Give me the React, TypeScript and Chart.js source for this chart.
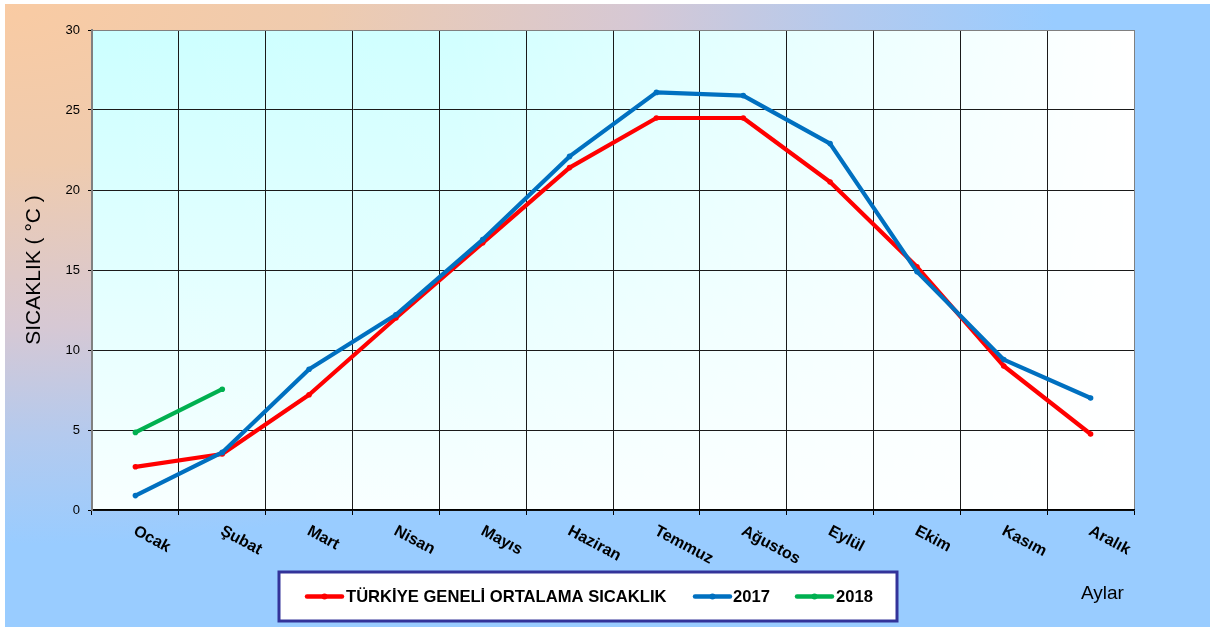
import React, { useEffect, useRef } from "react";
import { Chart, registerables } from "chart.js";

Chart.register(...registerables);

const MONTHS = ["Ocak", "Şubat", "Mart", "Nisan", "Mayıs", "Haziran", "Temmuz", "Ağustos", "Eylül", "Ekim", "Kasım", "Aralık"];
const TURKIYE_ORTALAMA = [2.7, 3.5, 7.2, 12.0, 16.7, 21.4, 24.5, 24.5, 20.5, 15.2, 9.0, 4.75];
const YIL_2017 = [0.9, 3.6, 8.8, 12.2, 16.9, 22.1, 26.1, 25.9, 22.9, 14.9, 9.4, 7.0];
const YIL_2018 = [4.85, 7.55, null, null, null, null, null, null, null, null, null, null];
const SERIES_LABELS = ["TÜRKİYE GENELİ ORTALAMA SICAKLIK", "2017", "2018"];
const SERIES_COLORS = ["#FF0000", "#0070C0", "#00B050"];
const Y_MIN = 0;
const Y_MAX = 30;
const Y_STEP = 5;
const Y_TITLE = "SICAKLIK ( °C )";
const X_TITLE = "Aylar";

const FAMILY = '"Liberation Sans", Arial, sans-serif';

const decor = {
  id: "decor",
  beforeDraw(chart: any) {
    const { ctx, chartArea: a } = chart;
    ctx.save();
    const g = ctx.createLinearGradient(0, a.top, 0, a.bottom);
    g.addColorStop(0, "#CCFFFF");
    g.addColorStop(1, "#F8FFFF");
    ctx.fillStyle = g;
    ctx.fillRect(a.left, a.top, a.width, a.height);
    const h = ctx.createLinearGradient(a.left, 0, a.right, 0);
    h.addColorStop(0, "rgba(255,255,255,0)");
    h.addColorStop(0.35, "rgba(255,255,255,0.1)");
    h.addColorStop(1, "rgba(255,255,255,1)");
    ctx.fillStyle = h;
    ctx.fillRect(a.left, a.top, a.width, a.height);
    ctx.restore();
  },
  afterDraw(chart: any) {
    const { ctx, chartArea: a } = chart;
    const xs = chart.scales.x;
    ctx.save();
    // rotated month labels
    ctx.fillStyle = "#000";
    ctx.font = `bold 16px ${FAMILY}`;
    ctx.textAlign = "left";
    ctx.textBaseline = "top";
    MONTHS.forEach((m, i) => {
      const x = xs.getPixelForValue(i) + 3;
      ctx.save();
      ctx.translate(x, a.bottom + 13);
      ctx.rotate(0.49);
      ctx.fillText(m, 0, 0);
      ctx.restore();
    });

    // legend box
    const bx = 274, by = 568, bw = 618, bh = 49;
    ctx.fillStyle = "#FFFFFF";
    ctx.fillRect(bx, by, bw, bh);
    ctx.strokeStyle = "#333399";
    ctx.lineWidth = 3;
    ctx.strokeRect(bx, by, bw, bh);
    const items = [
      { lx: 302, tx: 341 },
      { lx: 690, tx: 728 },
      { lx: 792, tx: 831 },
    ];
    const ly = by + bh / 2;
    items.forEach((it, i) => {
      const c = SERIES_COLORS[i];
      ctx.strokeStyle = c;
      ctx.lineWidth = 4.5;
      ctx.lineCap = "round";
      ctx.beginPath();
      ctx.moveTo(it.lx, ly);
      ctx.lineTo(it.lx + 35, ly);
      ctx.stroke();
      ctx.fillStyle = c;
      ctx.beginPath();
      ctx.arc(it.lx + 17.5, ly, 3, 0, Math.PI * 2);
      ctx.fill();
      ctx.fillStyle = "#000";
      ctx.font = `bold 16.6px ${FAMILY}`;
      ctx.textAlign = "left";
      ctx.textBaseline = "middle";
      ctx.fillText(SERIES_LABELS[i], it.tx, ly + 1);
    });

    // x title
    ctx.fillStyle = "#000";
    ctx.font = `19px ${FAMILY}`;
    ctx.textAlign = "left";
    ctx.textBaseline = "middle";
    ctx.fillText(X_TITLE, 1076, 590);
    ctx.restore();
  },
};

export default function App() {
  const ref = useRef<HTMLCanvasElement>(null);
  useEffect(() => {
    const datasets = [TURKIYE_ORTALAMA, YIL_2017, YIL_2018].map((d, i) => ({
      label: SERIES_LABELS[i],
      data: d,
      borderColor: SERIES_COLORS[i],
      backgroundColor: SERIES_COLORS[i],
      pointBackgroundColor: SERIES_COLORS[i],
      pointBorderColor: SERIES_COLORS[i],
      pointBorderWidth: 0,
      pointRadius: 2.8,
      borderWidth: 4.2,
      borderCapStyle: "round" as const,
      borderJoinStyle: "round" as const,
      tension: 0,
      spanGaps: false,
      order: 3 - i,
    }));
    const chart = new Chart(ref.current!, {
      type: "line",
      data: { labels: MONTHS, datasets },
      options: {
        animation: false,
        responsive: false,
        layout: { padding: { left: 0, top: 26, right: 76, bottom: 0 } },
        plugins: { legend: { display: false }, tooltip: { enabled: false }, title: { display: false } },
        scales: {
          x: {
            type: "category",
            offset: true,
            grid: {
              offset: true,
              color: (c: any) => (c.type === "scale" || c.index === 0 ? "#808080" : "#1a1a1a"),
              lineWidth: 1,
              drawTicks: true,
              tickLength: 5,
              tickColor: "#000",
            },
            border: { color: "#000", width: 1.5 },
            ticks: { display: false },
            afterFit: (s: any) => {
              s.height = 117;
            },
          },
          y: {
            min: Y_MIN,
            max: Y_MAX,
            ticks: { stepSize: Y_STEP, color: "#000", font: { size: 13, family: FAMILY }, padding: 8 },
            grid: {
              color: (c: any) => (c.tick && c.tick.value === Y_MAX ? "#808080" : "#1a1a1a"),
              lineWidth: 1,
              tickLength: 4,
              tickColor: "#000",
            },
            border: { color: "#808080", width: 2 },
            title: {
              display: true,
              text: Y_TITLE,
              color: "#000",
              font: { size: 21, family: FAMILY },
              padding: { top: 17, bottom: 0 },
            },
            afterFit: (s: any) => {
              s.width = 87;
            },
          },
        },
      },
      plugins: [decor],
    });
    return () => chart.destroy();
  }, []);
  return (
    <div
      style={{
        position: "absolute",
        left: 5,
        top: 4,
        width: 1205,
        height: 623,
        background:
          "radial-gradient(1050px 540px at 0px 0px, #F9CBA3 0%, #EFCBAE 30%, #D6C8D4 60%, #B4CAEE 80%, #99CCFF 100%)",
      }}
    >
      <canvas ref={ref} width={1205} height={623} style={{ display: "block", width: 1205, height: 623 }} />
    </div>
  );
}
